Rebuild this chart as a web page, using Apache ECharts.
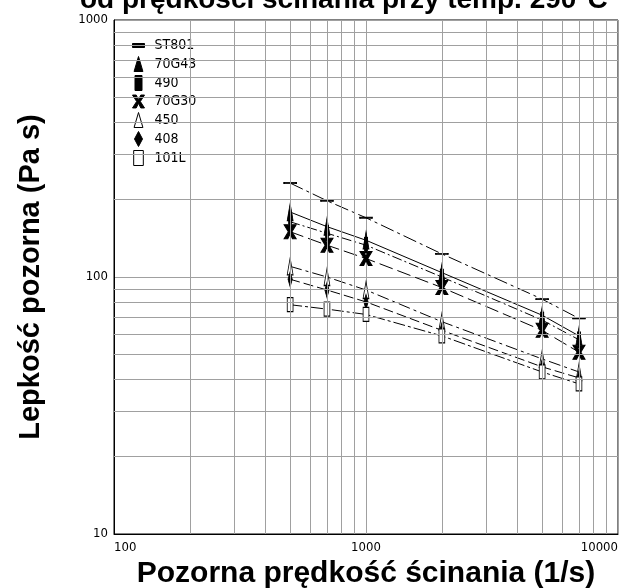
<!DOCTYPE html>
<html>
<head>
<meta charset="utf-8">
<script src="https://cdn.jsdelivr.net/npm/echarts@6/dist/echarts.min.js"></script>
<style>
  html, body { margin: 0; padding: 0; background: #fff; }
  #chart { width: 629px; height: 588px; }
</style>
</head>
<body>
<div id="chart"></div>
<script>
// shear rate (1/s)
var shearRates = [500, 700, 1000, 2000, 5000, 7000];
// viscosity (Pa s) for each grade
var names = ['ST801', '70G43', '490', '70G30', '450', '408', '101L'];
var st801 = [232, 198, 170, 123, 82, 69];
var g70g43 = [179, 157, 139, 104, 71, 59];
var g490 = [164, 148, 133, 100, 68, 57];
var g70g30 = [150, 133, 118, 91, 62, 51];
var g450 = [110, 100, 89, 67, 48, 42.7];
var g408 = [98, 89, 80, 62, 44.7, 40.5];
var g101l = [78, 75, 71.5, 59, 42.7, 38.4];
// minor log grid positions
var xMinor = [200, 300, 400, 500, 600, 700, 800, 900, 2000, 3000, 4000, 5000, 6000, 7000, 8000, 9000];
var yMinor = [20, 30, 40, 50, 60, 70, 80, 90, 200, 300, 400, 500, 600, 700, 800, 900];

var small = '"DejaVu Sans Condensed", "Liberation Sans Narrow", "Liberation Sans", Arial, sans-serif';
var bold = '"Liberation Sans", Arial, sans-serif';

var symbols = {
  bar: 'path://M0,0H12V4H0Z',
  tri: 'path://M5,0L10,17H0Z',
  rect: 'path://M0,0H7V15H0Z',
  x: 'path://M0,0H4L6.5,5L9,0H13L8.5,7L13,14H9L6.5,9L4,14H0L4.5,7Z',
  diamond: 'path://M4,0L8,7.5L4,15L0,7.5Z',
  orect: 'path://M0,0H9V14H0Z'
};

var defs = [
  { vals: st801, sym: symbols.bar, size: [12, 4], fill: '#000', dash: [14, 4, 3, 4] },
  { vals: g70g43, sym: symbols.tri, size: [10, 17], fill: '#000', dash: 'solid' },
  { vals: g490, sym: symbols.rect, size: [7, 15], fill: '#000', dash: [10, 3, 2, 3] },
  { vals: g70g30, sym: symbols.x, size: [13, 14], fill: '#000', dash: [14, 5] },
  { vals: g450, sym: symbols.tri, size: [10, 17], fill: '#fff', dash: [12, 4, 3, 4] },
  { vals: g408, sym: symbols.diamond, size: [8, 15], fill: '#000', dash: [10, 4] },
  { vals: g101l, sym: symbols.orect, size: [9, 14], fill: '#fff', dash: [12, 3, 3, 3] }
];

var series = [{
  type: 'line',
  data: [],
  z: 1,
  silent: true,
  markLine: {
    silent: true,
    symbol: ['none', 'none'],
    label: { show: false },
    lineStyle: { color: '#a0a0a0', type: 'solid', width: 1 },
    animation: false,
    data: xMinor.map(function (v) { return { xAxis: v }; })
      .concat(yMinor.map(function (v) { return { yAxis: v }; }))
  }
}];

var legendData = [];
defs.forEach(function (d, i) {
  var mark = { color: d.fill, borderColor: '#000', borderWidth: 1, borderType: 'solid' };
  series.push({
    name: names[i],
    type: 'line',
    z: 3,
    data: shearRates.map(function (x, j) { return [x, d.vals[j]]; }),
    symbol: d.sym,
    symbolSize: d.size,
    symbolKeepAspect: true,
    lineStyle: { color: '#000', width: 1, type: d.dash },
    itemStyle: mark
  });
  legendData.push({ name: names[i], icon: d.sym, itemStyle: mark });
});

function plainNum(v) { return String(v); }

var chart = echarts.init(document.getElementById('chart'));
chart.setOption({
  animation: false,
  backgroundColor: '#fff',
  title: {
    text: 'od prędkości ścinania przy temp. 290°C',
    left: 80,
    top: -14,
    padding: 0,
    textStyle: { fontFamily: bold, fontSize: 28, fontWeight: 'bold', color: '#000' }
  },
  grid: {
    left: 114, right: 11, top: 20, bottom: 54,
    outerBoundsMode: 'none',
    containLabel: false,
    show: true, borderColor: '#000', borderWidth: 1
  },
  legend: {
    orient: 'vertical',
    left: 131,
    top: 35,
    padding: [3, 8, 3, 1],
    itemWidth: 12,
    itemHeight: 15,
    itemGap: 3,
    symbolKeepAspect: true,
    backgroundColor: '#fff',
    data: legendData,
    textStyle: { fontFamily: small, fontSize: 14, color: '#000', lineHeight: 15, padding: [0, 0, 0, 5] }
  },
  xAxis: {
    type: 'log',
    logBase: 10,
    min: 100,
    max: 10000,
    name: 'Pozorna prędkość ścinania (1/s)',
    nameLocation: 'middle',
    nameGap: 21,
    nameTextStyle: { fontFamily: bold, fontSize: 30, fontWeight: 'bold', color: '#000' },
    axisLine: { show: true, lineStyle: { color: '#000' } },
    axisTick: { show: false },
    axisLabel: { fontFamily: small, fontSize: 13, color: '#000', margin: 7, alignMinLabel: 'left', alignMaxLabel: 'right', formatter: plainNum },
    splitLine: { show: true, lineStyle: { color: '#a0a0a0', width: 1 } }
  },
  yAxis: {
    type: 'log',
    logBase: 10,
    min: 10,
    max: 1000,
    name: 'Lepkość pozorna (Pa s)',
    nameLocation: 'middle',
    nameRotate: 90,
    nameGap: 69,
    nameTextStyle: { fontFamily: bold, fontSize: 29, fontWeight: 'bold', color: '#000' },
    axisLine: { show: true, lineStyle: { color: '#000' } },
    axisTick: { show: false },
    axisLabel: { fontFamily: small, fontSize: 13, color: '#000', margin: 6, formatter: plainNum },
    splitLine: { show: true, lineStyle: { color: '#a0a0a0', width: 1 } }
  },
  series: series
});
</script>
</body>
</html>
